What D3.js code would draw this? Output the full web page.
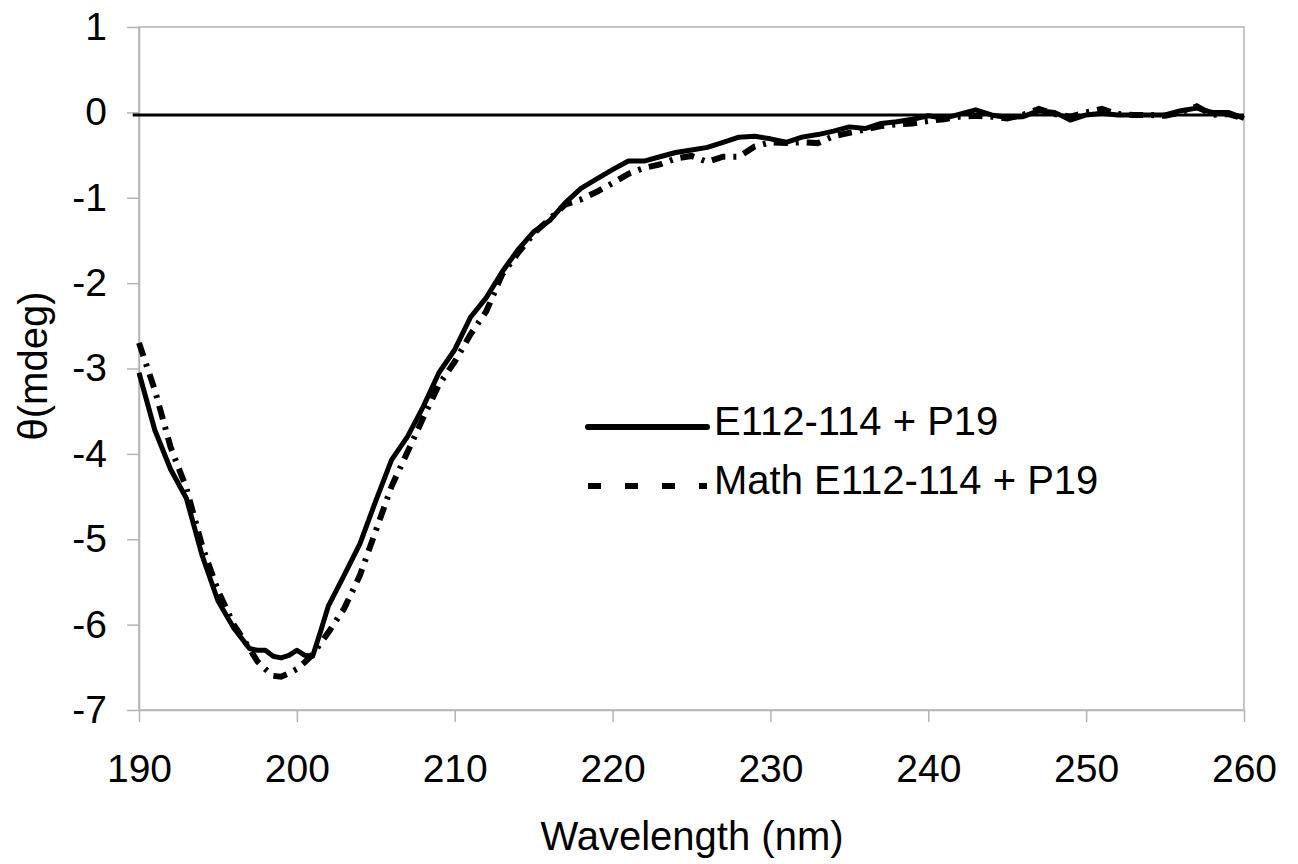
<!DOCTYPE html>
<html>
<head>
<meta charset="utf-8">
<script src="https://d3js.org/d3.v7.min.js"></script>
<style>
  body { margin: 0; background: #fff; }
  text { font-family: "Liberation Sans", Arial, sans-serif; fill: #000; }
</style>
</head>
<body>
<div id="chart"></div>
<script>
// Wavelength grid (nm), finer around the minimum.
const wavelengths = [
  190, 191, 192, 193, 194, 195, 196, 197,
  197.5, 198, 198.5, 199, 199.5, 200, 200.5, 201, 201.5,
  202, 203, 204, 205, 206, 207, 208, 209, 210,
  211, 212, 213, 214, 215, 216, 217, 218, 219, 220,
  221, 222, 223, 224, 225, 226, 227, 228, 229, 230,
  231, 232, 233, 234, 235, 236, 237, 238, 239, 240,
  241, 242, 243, 244, 245, 246, 247, 248, 249, 250,
  251, 252, 253, 254, 255, 256, 257, 258, 259, 260
];

// Measured: E112-114 + P19
const measured = [
  -3.05, -3.72, -4.18, -4.52, -5.19, -5.72, -6.04, -6.28,
  -6.30, -6.30, -6.37, -6.39, -6.36, -6.30, -6.36, -6.37, -6.08,
  -5.78, -5.42, -5.05, -4.55, -4.07, -3.80, -3.45, -3.05, -2.78,
  -2.40, -2.17, -1.87, -1.61, -1.40, -1.27, -1.06, -0.89, -0.78, -0.67,
  -0.57, -0.57, -0.52, -0.47, -0.44, -0.41, -0.35, -0.29, -0.28, -0.31,
  -0.35, -0.29, -0.26, -0.22, -0.17, -0.19, -0.13, -0.11, -0.08, -0.04,
  -0.07, -0.02, 0.03, -0.03, -0.06, -0.05, 0.02, 0.00, -0.09, -0.03,
  -0.01, -0.03, -0.03, -0.03, -0.03, 0.02, 0.05, 0.00, 0.00, -0.07
];

// Calculated: Math E112-114 + P19
const mathSum = [
  -2.70, -3.25, -3.92, -4.40, -5.08, -5.60, -6.00, -6.28,
  -6.43, -6.52, -6.60, -6.61, -6.57, -6.52, -6.44, -6.35, -6.22,
  -6.09, -5.81, -5.42, -4.90, -4.38, -3.98, -3.58, -3.19, -2.92,
  -2.60, -2.33, -1.90, -1.65, -1.42, -1.25, -1.08, -1.02, -0.93, -0.83,
  -0.72, -0.65, -0.61, -0.54, -0.51, -0.58, -0.52, -0.52, -0.40, -0.35,
  -0.36, -0.35, -0.36, -0.28, -0.24, -0.20, -0.16, -0.14, -0.13, -0.10,
  -0.08, -0.05, -0.04, -0.05, -0.07, -0.03, 0.04, -0.02, -0.05, 0.00,
  0.04, -0.02, -0.03, -0.03, -0.04, 0.00, 0.07, -0.03, -0.02, -0.07
];

// Baseline drawn across the plot.
const baselineWl = [189.6, 260];
const baselineVal = [-0.03, -0.03];

const xTicks = [190, 200, 210, 220, 230, 240, 250, 260];
const yTicks = [1, 0, -1, -2, -3, -4, -5, -6, -7];
const seriesNames = ["E112-114 + P19", "Math E112-114 + P19"];

const width = 1298, height = 864;
const m = { top: 27, right: 54, bottom: 154, left: 139 };
const w = width - m.left - m.right;
const h = height - m.top - m.bottom;

const svg = d3.select("#chart").append("svg")
  .attr("width", width)
  .attr("height", height);

const g = svg.append("g").attr("transform", `translate(${m.left},${m.top})`);

const x = d3.scaleLinear().domain([190, 260]).range([0, w]);
const y = d3.scaleLinear().domain([-7, 1]).range([h, 0]);

// Plot frame
g.append("rect")
  .attr("width", w).attr("height", h)
  .attr("fill", "none")
  .attr("stroke", "#b4b4b4")
  .attr("stroke-width", 1.5);

// Axes (plain hyphen for negatives, like the original)
const xAxisG = g.append("g")
  .attr("transform", `translate(0,${h})`)
  .call(d3.axisBottom(x).tickValues(xTicks).tickSize(12).tickSizeOuter(0).tickPadding(32)
    .tickFormat(d => String(d)));

const yAxisG = g.append("g")
  .call(d3.axisLeft(y).tickValues(yTicks).tickSize(12).tickSizeOuter(0).tickPadding(20)
    .tickFormat(d => String(d)));

[xAxisG, yAxisG].forEach(a => {
  a.attr("font-family", null).attr("font-size", null);
  a.select(".domain").attr("stroke", "#b4b4b4").attr("stroke-width", 1.5);
  a.selectAll(".tick line").attr("stroke", "#b4b4b4").attr("stroke-width", 1.5);
  a.selectAll(".tick text").style("font-size", "39px").attr("fill", "#000");
});

const line = d3.line()
  .x(d => x(d[0]))
  .y(d => y(d[1]));

// Zero line
g.append("path")
  .datum(d3.zip(baselineWl, baselineVal))
  .attr("fill", "none")
  .attr("stroke", "#000")
  .attr("stroke-width", 3)
  .attr("d", line);

// Measured (solid)
g.append("path")
  .datum(d3.zip(wavelengths, measured))
  .attr("fill", "none")
  .attr("stroke", "#000")
  .attr("stroke-width", 5)
  .attr("stroke-linejoin", "round")
  .attr("d", line);

// Math sum (dashed)
g.append("path")
  .datum(d3.zip(wavelengths, mathSum))
  .attr("fill", "none")
  .attr("stroke", "#000")
  .attr("stroke-width", 6)
  .attr("stroke-dasharray", "14,8,3,8")
  .attr("d", line);

// Axis titles
svg.append("text")
  .attr("x", 692).attr("y", 850)
  .attr("text-anchor", "middle")
  .style("font-size", "40px")
  .text("Wavelength (nm)");

svg.append("text")
  .attr("transform", "translate(47,366) rotate(-90)")
  .attr("text-anchor", "middle")
  .style("font-size", "40px")
  .text("θ(mdeg)");

// Legend
const legend = svg.append("g");
const rows = [
  { name: seriesNames[0], y: 427, dash: null },
  { name: seriesNames[1], y: 486, dash: "13,24" }
];
rows.forEach(r => {
  legend.append("line")
    .attr("x1", 588).attr("x2", 707)
    .attr("y1", r.y).attr("y2", r.y)
    .attr("stroke", "#000")
    .attr("stroke-width", 6)
    .attr("stroke-linecap", r.dash ? "butt" : "round")
    .attr("stroke-dasharray", r.dash);
  legend.append("text")
    .attr("x", 714).attr("y", r.y + 8)
    .style("font-size", "40px")
    .text(r.name);
});
</script>
</body>
</html>
